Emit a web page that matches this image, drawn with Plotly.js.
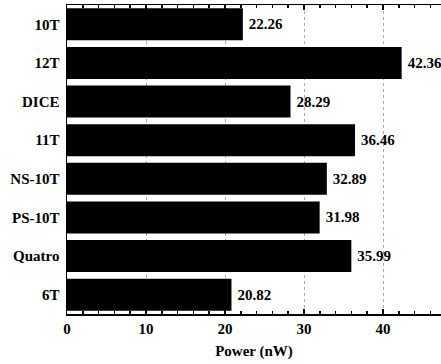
<!DOCTYPE html>
<html><head><meta charset="utf-8">
<script src="https://cdn.plot.ly/plotly-3.0.1.min.js"></script>
<style>html,body{margin:0;padding:0;background:#fff;}#chart{width:441px;height:364px;}</style>
</head><body><div id="chart"></div>
<script>
const categories = ["10T", "12T", "DICE", "11T", "NS-10T", "PS-10T", "Quatro", "6T"];
const powerValues = [22.26, 42.36, 28.29, 36.46, 32.89, 31.98, 35.99, 20.82];
const xTickValues = [0, 10, 20, 30, 40];

const fam = "Liberation Serif";
const bfont = {family: fam, size: 15, color: "#000", weight: "bold"};

const trace = {
  type: "bar",
  orientation: "h",
  y: categories,
  x: powerValues,
  marker: {color: "#000", line: {width: 0}},
  width: 0.83,
  text: powerValues.map(v => "\u2009" + v.toFixed(2)),
  textposition: "outside",
  cliponaxis: false,
  textfont: bfont,
  hoverinfo: "none"
};

const layout = {
  width: 441, height: 364,
  margin: {l: 67, r: 0, t: 5, b: 50},
  paper_bgcolor: "#fff", plot_bgcolor: "#fff",
  showlegend: false,
  font: {family: fam, size: 15, color: "#000"},
  bargap: 0.17,
  xaxis: {
    range: [0, 47.34],
    tickvals: xTickValues,
    ticks: "inside", ticklen: 5, tickwidth: 1.5, tickcolor: "#000",
    minor: {dtick: 2, ticks: "inside", ticklen: 3, tickcolor: "#000", showgrid: false},
    showline: true, linecolor: "#000", linewidth: 1.5, mirror: "ticks",
    showgrid: true, gridcolor: "#aaa", griddash: "dot", gridwidth: 1,
    zeroline: false,
    tickfont: bfont,
    title: {text: "Power (nW)", font: bfont, standoff: 10},
    automargin: false
  },
  yaxis: {
    autorange: "reversed",
    showline: true, linecolor: "#000", linewidth: 1.5,
    ticks: "", showgrid: false, zeroline: false,
    tickfont: bfont,
    ticklabelstandoff: 3,
    automargin: false
  }
};

Plotly.newPlot("chart", [trace], layout, {staticPlot: true, displayModeBar: false});
</script>
</body></html>
